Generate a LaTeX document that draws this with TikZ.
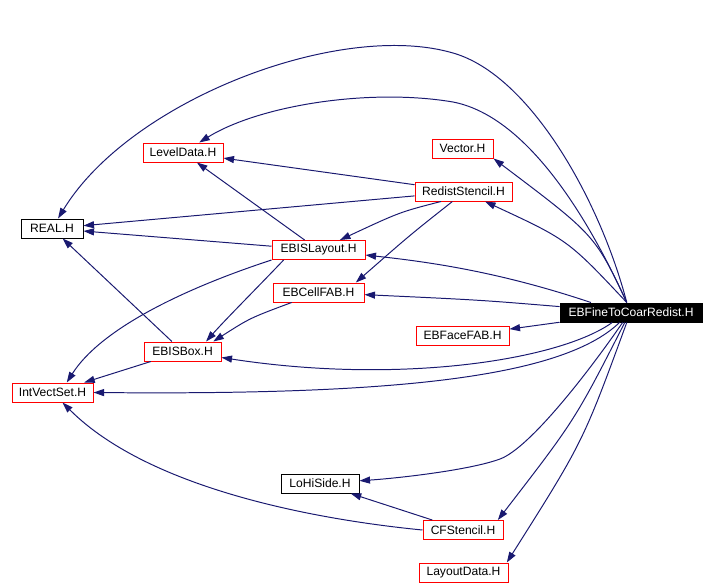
\documentclass[tikz,border=0pt]{standalone}
\usepackage{fontspec}
\setmainfont{Liberation Sans}
\usetikzlibrary{arrows.meta}
\definecolor{archi}{RGB}{25,25,112}

\begin{document}
\begin{tikzpicture}[
    x=0.025cm, y=-0.025cm,
    font=\fontsize{8.6}{10}\selectfont,
    file/.style={draw=red, line width=0.7pt, minimum height=0.475cm, inner sep=0pt},
    dip/.style={draw=archi, line width=0.7pt, -{Triangle[length=7.5pt,width=5pt]}},
  ]

  \useasboundingbox (0,0) rectangle (714,584);

  % ---- i file col riquadro rosso ---------------------------------------------
  \foreach \n/\x/\y/\w/\t in {lev/183/152.5/80/LevelData.H,
                              vec/462.5/148.5/61/Vector.H,
                              rst/463.5/191.5/97/RedistStencil.H,
                              isl/318.5/250/93/EBISLayout.H,
                              cell/318.5/292.5/91/EBCellFAB.H,
                              face/462.5/335.5/93/EBFaceFAB.H,
                              box/182.5/351.5/77/EBISBox.H,
                              ivs/52.5/392.5/81/IntVectSet.H,
                              cfs/463/530/80/CFStencil.H,
                              ldata/463.5/572.5/89/LayoutData.H}
    \node[file, minimum width=\w*0.025cm] (\n) at (\x,\y) {\t};

  % ---- i file col riquadro nero ----------------------------------------------
  \node[file, draw=black, minimum width=62*0.025cm] (real) at (52,228.5) {REAL.H};
  \node[file, draw=black, minimum width=78*0.025cm] (lohi) at (320,483.5) {LoHiSide.H};
  \node[file, draw=black, fill=black, text=white, minimum width=142*0.025cm]
    (fine) at (631,312.5) {EBFineToCoarRedist.H};

  % ---- dipendenze di EBFineToCoarRedist.H (verso l'alto) ---------------------
  \draw[dip] (fine.113) .. controls (600,200) and (530,75) .. (453,53)
                        .. controls (340,20) and (130,100) .. (real);
  \draw[dip] (fine.113) .. controls (580,200) and (520,115) .. (453,102)
                        .. controls (370,88) and (260,105) .. (lev);
  \draw[dip] (fine.113) .. controls (595,235) .. (vec.south east);
  \draw[dip] (fine.113) .. controls (568,240) .. (rst);
  \draw[dip] (fine.166) .. controls (500,272) and (430,262) .. (isl);
  \draw[dip] (fine) .. controls (480,300) .. (cell);
  \draw[dip] (fine) -- (face);

  % ---- dipendenze di EBFineToCoarRedist.H (verso il basso) -------------------
  \draw[dip] (fine.208) .. controls (560,360) and (400,385) .. (box);
  \draw[dip] (fine.221) .. controls (560,380) and (380,395) .. (ivs.east);
  \draw[dip] (fine.230) .. controls (590,370) and (530,448) .. (500,459)
                        .. controls (470,470) and (400,478) .. (lohi);
  \draw[dip] (fine.238) .. controls (575,420) .. (cfs.16);
  \draw[dip] (fine.247) .. controls (583,442) .. (ldata.13);

  % ---- RedistStencil.H -------------------------------------------------------
  \draw[dip] (rst) -- (lev);
  \draw[dip] (rst) -- (real);
  \draw[dip] (rst.204) .. controls (400,212) .. (isl);
  \draw[dip] (rst.222) .. controls (410,235) .. (cell.15);

  % ---- EBISLayout.H ----------------------------------------------------------
  \draw[dip] (isl) -- (real);
  \draw[dip] (isl) -- (lev);
  \draw[dip] (isl.196) .. controls (255,290) and (225,320) .. (box.23);
  \draw[dip] (isl.south west) .. controls (180,290) and (100,330) .. (ivs.35);

  % ---- EBCellFAB.H, EBISBox.H ------------------------------------------------
  \draw[dip] (cell) .. controls (250,318) .. (box.18);
  \draw[dip] (box) -- (real);
  \draw[dip] (box) -- (ivs);

  % ---- CFStencil.H -----------------------------------------------------------
  \draw[dip] (cfs) -- (lohi);
  \draw[dip] (cfs.west) .. controls (320,520) and (150,490) .. (ivs);

\end{tikzpicture}
\end{document}
